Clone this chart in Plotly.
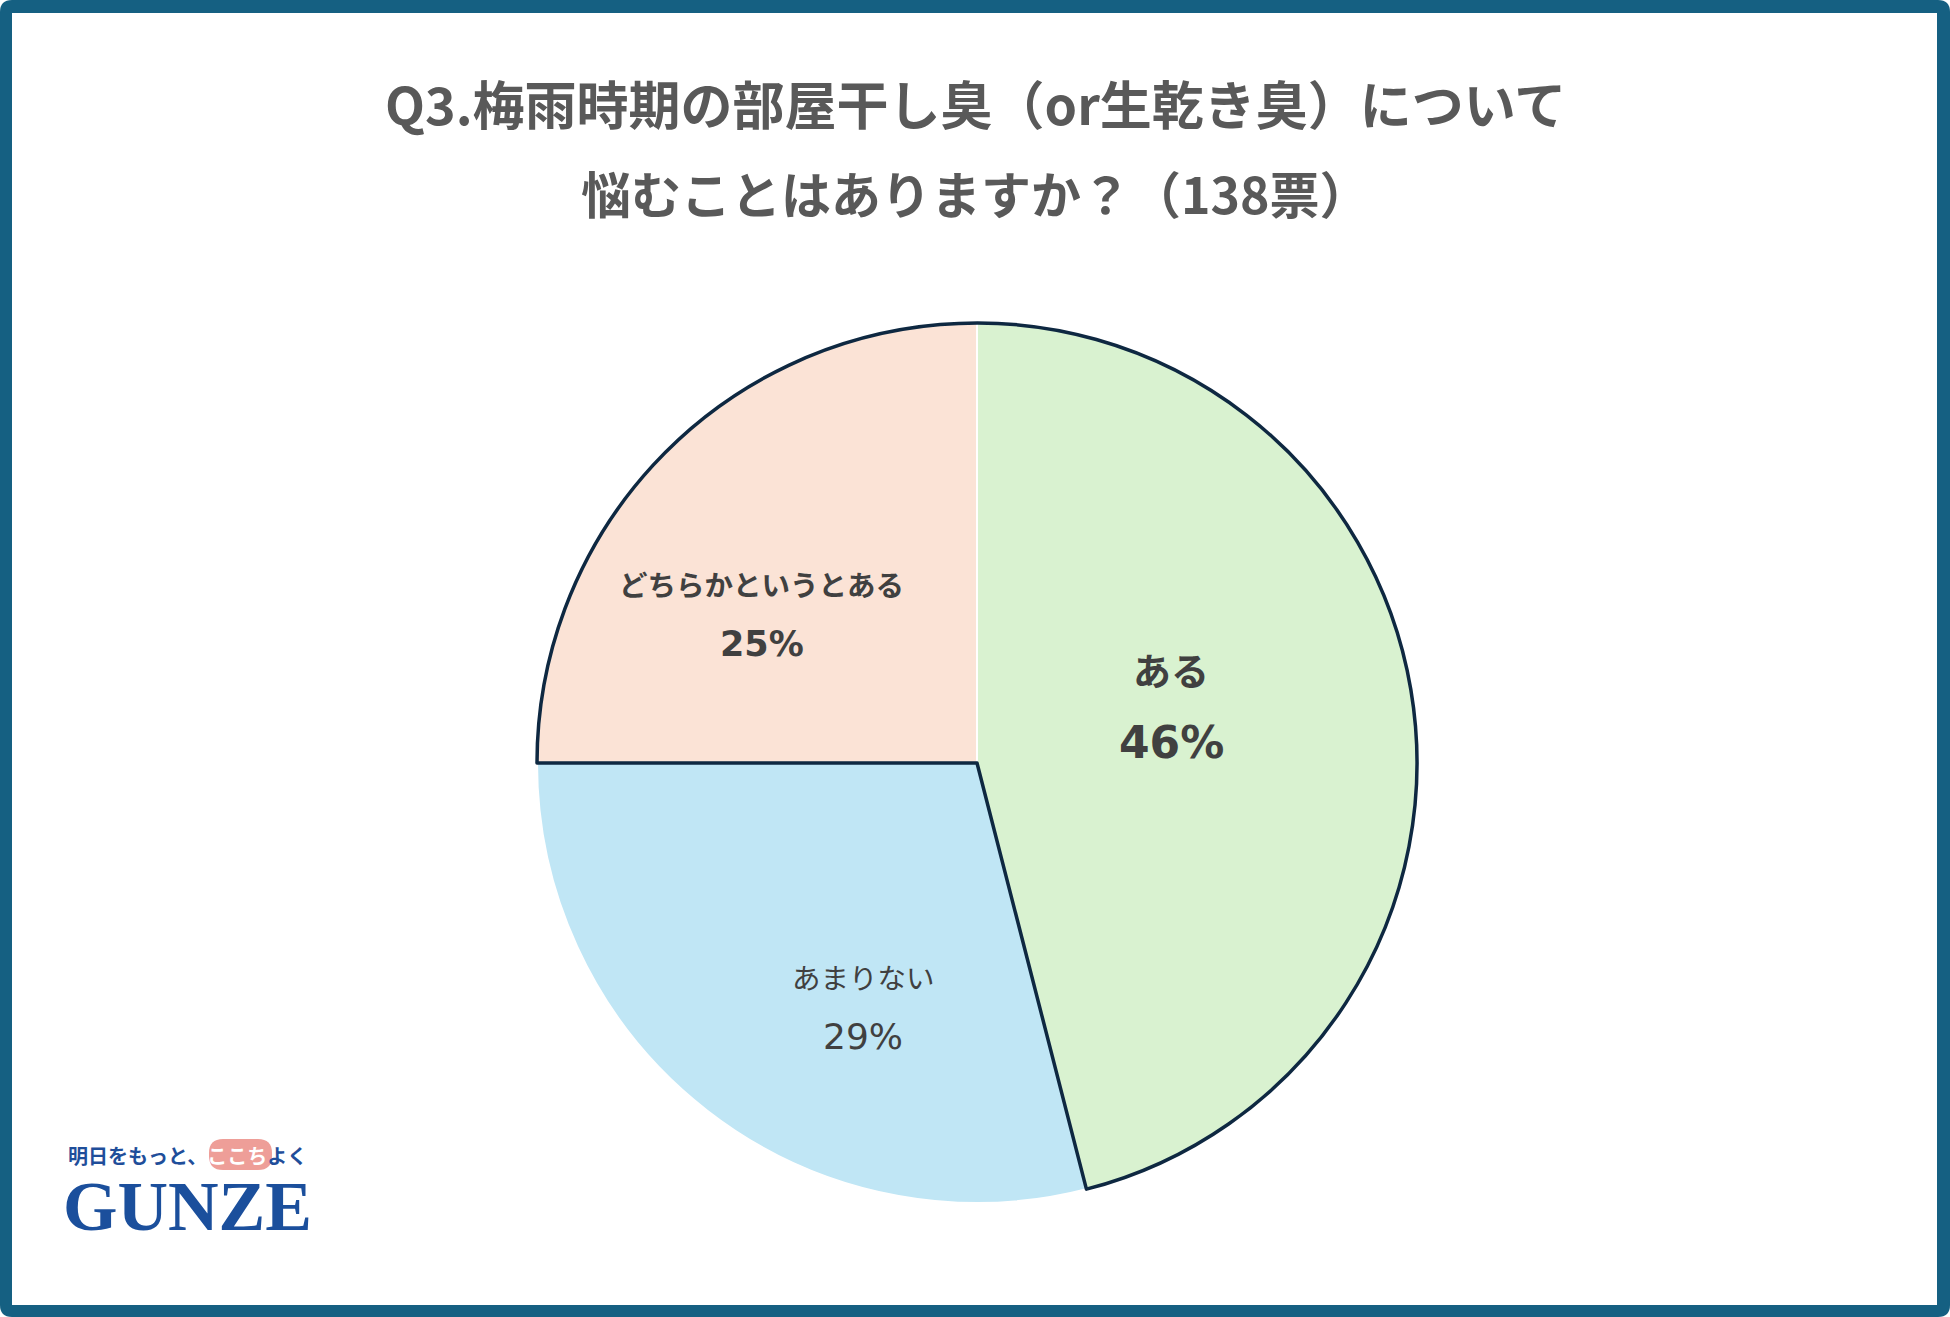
import math
import plotly.graph_objects as go

# ---- data ----
categories = ["ある", "あまりない", "どちらかというとある"]
values = [46, 29, 25]
pct_labels = ["46%", "29%", "25%"]
title_lines = ["Q3.梅雨時期の部屋干し臭（or生乾き臭）について", "悩むことはありますか？（138票）"]

# ---- style ----
W, H = 1950, 1317
colors = ["#D9F2D0", "#C0E6F5", "#FBE3D6"]
outline_color = "#0E2841"
frame_color = "#156082"
cx, cy, R = 977, 763, 440
label_r = [0.46, 0.61, 0.595]
label_ang_off = [-9.2, -12.7, -10.3]
label_gap = [37, 30, 30]
name_font = [dict(size=38, weight="bold"), dict(size=28.5, weight="normal"), dict(size=28.5, weight="bold")]
pct_font = [dict(size=44, weight="bold"), dict(size=36, weight="normal"), dict(size=35, weight="bold")]
title_sizes = [52, 50]

def px(x):
    return x / W

def py(y):
    return 1 - y / H

fig = go.Figure()
dom = dict(x=[px(cx - R), px(cx + R)], y=[py(cy + R), py(cy - R)])
fig.add_trace(go.Pie(
    labels=categories, values=values, sort=False, direction="clockwise", rotation=0,
    marker=dict(colors=colors, line=dict(color="white", width=2)),
    textinfo="none", domain=dom, showlegend=False,
))
# outline around the "yes" group (ある + どちらかというとある)
total = sum(values)
yes_group = values[0] + values[2]
start_deg = (values[0] + values[1]) / total * 360
fig.add_trace(go.Pie(
    labels=["yes", "no"], values=[yes_group, values[1]], sort=False, direction="clockwise",
    rotation=start_deg - 360,
    marker=dict(colors=["rgba(0,0,0,0)", "rgba(0,0,0,0)"],
                line=dict(color=[outline_color, "rgba(0,0,0,0)"], width=[3.5, 0])),
    textinfo="none", hoverinfo="skip", domain=dom, showlegend=False,
))

annotations = []
cum = 0
for i, v in enumerate(values):
    mid = (cum + v / 2) / total * 360 + label_ang_off[i]
    cum += v
    r = label_r[i] * R
    lx = cx + r * math.sin(math.radians(mid))
    ly = cy - r * math.cos(math.radians(mid))
    annotations.append(dict(x=px(lx), y=py(ly - label_gap[i]), xref="paper", yref="paper",
                            text=categories[i], showarrow=False, xanchor="center", yanchor="middle",
                            font=dict(family="Noto Sans CJK JP", color="#404040", **name_font[i])))
    annotations.append(dict(x=px(lx), y=py(ly + label_gap[i]), xref="paper", yref="paper",
                            text=pct_labels[i], showarrow=False, xanchor="center", yanchor="middle",
                            font=dict(family="DejaVu Sans", color="#404040", **pct_font[i])))

for t, yy, sz in zip(title_lines, [103, 192], title_sizes):
    annotations.append(dict(x=0.5, y=py(yy), xref="paper", yref="paper", text=t, showarrow=False,
                            xanchor="center", yanchor="middle",
                            font=dict(family="Noto Sans CJK JP", size=sz, weight="bold", color="#595959")))

# logo
annotations.append(dict(x=px(187), y=py(1155), xref="paper", yref="paper",
                        text="明日をもっと、<span style='color:white'>ここち</span>よく", showarrow=False,
                        xanchor="center", yanchor="middle",
                        font=dict(family="Noto Sans CJK JP", size=20, weight="bold", color="#1F4E9A")))
annotations.append(dict(x=px(187), y=py(1206), xref="paper", yref="paper", text="GUNZE", showarrow=False,
                        xanchor="center", yanchor="middle",
                        font=dict(family="Liberation Serif", size=70, weight="bold", color="#1B4F9C")))

def rrect(x0, y0, x1, y1, r):
    # rounded rectangle path in pixel coords -> paper coords
    return (f"M {px(x0 + r)},{py(y0)} L {px(x1 - r)},{py(y0)} Q {px(x1)},{py(y0)} {px(x1)},{py(y0 + r)} "
            f"L {px(x1)},{py(y1 - r)} Q {px(x1)},{py(y1)} {px(x1 - r)},{py(y1)} "
            f"L {px(x0 + r)},{py(y1)} Q {px(x0)},{py(y1)} {px(x0)},{py(y1 - r)} "
            f"L {px(x0)},{py(y0 + r)} Q {px(x0)},{py(y0)} {px(x0 + r)},{py(y0)} Z")

shapes = [
    dict(type="path", xref="paper", yref="paper", path=rrect(0, 0, W, H, 12),
         fillcolor=frame_color, line=dict(width=0), layer="below"),
    dict(type="rect", xref="paper", yref="paper", x0=px(12), x1=px(W - 13), y0=py(H - 12), y1=py(13),
         fillcolor="white", line=dict(width=0), layer="below"),
    dict(type="path", xref="paper", yref="paper", path=rrect(209, 1139, 272, 1170, 14),
         fillcolor="#EE9E98", line=dict(width=0), layer="below"),
]

fig.update_layout(
    width=W, height=H, margin=dict(l=0, r=0, t=0, b=0),
    paper_bgcolor="white", plot_bgcolor="white",
    annotations=annotations, shapes=shapes, showlegend=False,
)

fig.write_html("out.html", config={"displayModeBar": False},
               post_script="document.body.style.margin='0';document.body.style.overflow='hidden';")
